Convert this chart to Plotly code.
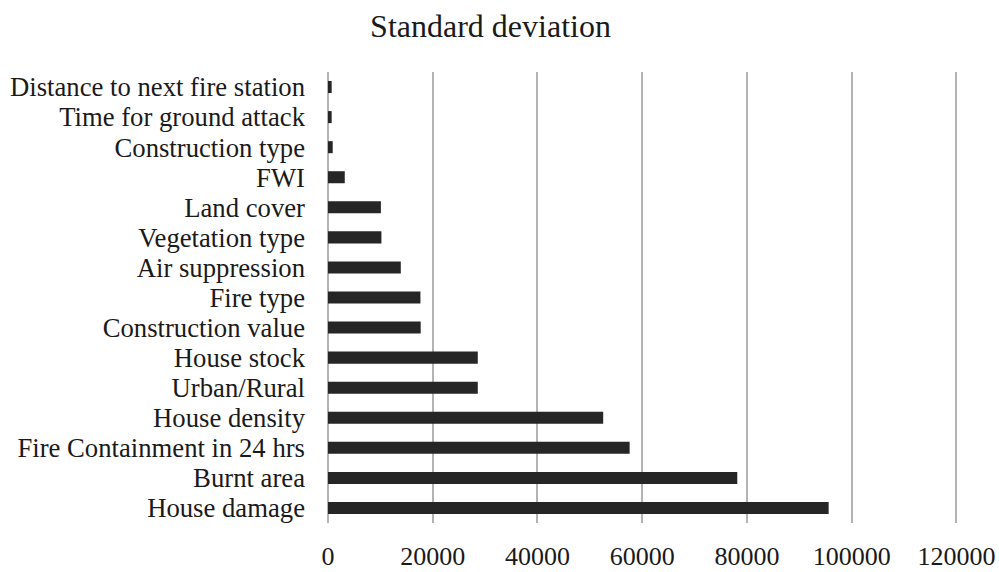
import plotly.graph_objects as go

# Categories listed bottom to top
categories = [
    "House damage",
    "Burnt area",
    "Fire Containment in 24 hrs",
    "House density",
    "Urban/Rural",
    "House stock",
    "Construction value",
    "Fire type",
    "Air suppression",
    "Vegetation type",
    "Land cover",
    "FWI",
    "Construction type",
    "Time for ground attack",
    "Distance to next fire station",
]
std_dev = [95600, 78150, 57600, 52550, 28600, 28600, 17700, 17650,
           13900, 10200, 10100, 3200, 900, 700, 700]

x_ticks = [0, 20000, 40000, 60000, 80000, 100000, 120000]

FONT = "Liberation Serif, Times New Roman, serif"

fig = go.Figure(
    go.Bar(
        y=categories,
        x=std_dev,
        orientation="h",
        marker=dict(color="#262626", line=dict(width=0)),
        width=0.4,
    )
)

fig.update_layout(
    width=999,
    height=572,
    margin=dict(l=328, r=41, t=72, b=49),
    paper_bgcolor="white",
    plot_bgcolor="white",
    showlegend=False,
    font=dict(family=FONT, color="#1a1a1a", size=26),
    title=dict(
        text="Standard deviation",
        x=0.491,
        xanchor="center",
        y=0.955,
        yanchor="middle",
        font=dict(family=FONT, size=32, color="#1a1a1a"),
    ),
    xaxis=dict(
        range=[0, 120300],
        tickmode="array",
        tickvals=x_ticks,
        ticktext=[str(v) for v in x_ticks],
        showgrid=True,
        gridcolor="#b3b3b3",
        gridwidth=2,
        zeroline=True,
        zerolinecolor="#b3b3b3",
        zerolinewidth=2,
        showline=False,
        ticks="",
        automargin=False,
        tickfont=dict(family=FONT, size=26, color="#1a1a1a"),
        ticklabelstandoff=15,
    ),
    yaxis=dict(
        categoryorder="array",
        categoryarray=categories,
        tickmode="array",
        tickvals=categories,
        ticktext=categories,
        showgrid=False,
        showline=False,
        ticks="",
        automargin=False,
        tickfont=dict(family=FONT, size=26.7, color="#1a1a1a"),
        ticklabelstandoff=22,
    ),
)

fig.write_html("out.html")
